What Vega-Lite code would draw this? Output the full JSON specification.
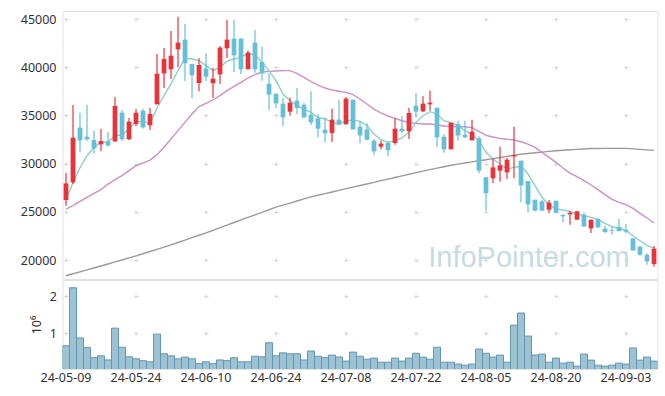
{
  "$schema": "https://vega.github.io/schema/vega-lite/v6.json",
  "padding": {"left": 16.5, "top": 10, "right": 5, "bottom": 5},
  "spacing": -3,
  "data": {"values": [
    {"d":"24-05-09","o":26220,"h":29020,"l":25640,"c":27950,"v":670000,"m5":26220,"m20":25290,"m120":18370},
    {"d":"24-05-10","o":28060,"h":36080,"l":27880,"c":32690,"v":2220000,"m5":28050,"m20":25640,"m120":18570},
    {"d":"24-05-13","o":33730,"h":35280,"l":31170,"c":32410,"v":880000,"m5":29600,"m20":26090,"m120":18770},
    {"d":"24-05-14","o":32790,"h":36080,"l":32380,"c":32520,"v":620000,"m5":30820,"m20":26500,"m120":18970},
    {"d":"24-05-16","o":32450,"h":33420,"l":31060,"c":31580,"v":350000,"m5":31690,"m20":26910,"m120":19175},
    {"d":"24-05-17","o":32000,"h":33590,"l":31270,"c":32340,"v":400000,"m5":32200,"m20":27300,"m120":19380},
    {"d":"24-05-20","o":32310,"h":33240,"l":31760,"c":31890,"v":290000,"m5":32270,"m20":27880,"m120":19590},
    {"d":"24-05-21","o":32310,"h":36910,"l":32240,"c":35980,"v":1140000,"m5":32900,"m20":28330,"m120":19800},
    {"d":"24-05-22","o":35280,"h":35560,"l":32380,"c":32520,"v":630000,"m5":32970,"m20":28750,"m120":20005},
    {"d":"24-05-23","o":32520,"h":34730,"l":32450,"c":34350,"v":375000,"m5":33590,"m20":29270,"m120":20215},
    {"d":"24-05-24","o":34110,"h":35660,"l":33870,"c":35280,"v":320000,"m5":34350,"m20":29780,"m120":20430},
    {"d":"24-05-27","o":35490,"h":35700,"l":33620,"c":33760,"v":270000,"m5":34380,"m20":30060,"m120":20650},
    {"d":"24-05-28","o":33970,"h":35770,"l":33490,"c":35150,"v":240000,"m5":34180,"m20":30370,"m120":20880},
    {"d":"24-05-29","o":36150,"h":41370,"l":36150,"c":39330,"v":980000,"m5":35770,"m20":30930,"m120":21110},
    {"d":"24-05-30","o":39360,"h":41990,"l":37840,"c":40850,"v":455000,"m5":37050,"m20":31690,"m120":21340},
    {"d":"24-05-31","o":39780,"h":43760,"l":38780,"c":41200,"v":400000,"m5":38260,"m20":32550,"m120":21570},
    {"d":"24-06-03","o":41850,"h":45240,"l":39990,"c":42550,"v":320000,"m5":39640,"m20":33420,"m120":21815},
    {"d":"24-06-04","o":42860,"h":44480,"l":38570,"c":40400,"v":366000,"m5":40920,"m20":34280,"m120":22065},
    {"d":"24-06-05","o":40330,"h":40330,"l":36810,"c":39160,"v":320000,"m5":40850,"m20":35140,"m120":22315},
    {"d":"24-06-07","o":38360,"h":40920,"l":37500,"c":40230,"v":190000,"m5":40680,"m20":35910,"m120":22565},
    {"d":"24-06-10","o":39850,"h":41440,"l":38530,"c":39020,"v":240000,"m5":40160,"m20":36250,"m120":22810},
    {"d":"24-06-11","o":38330,"h":39950,"l":36810,"c":38810,"v":190000,"m5":39640,"m20":36600,"m120":23080},
    {"d":"24-06-12","o":39260,"h":42200,"l":38260,"c":42030,"v":290000,"m5":39990,"m20":37050,"m120":23350},
    {"d":"24-06-13","o":41960,"h":44930,"l":40950,"c":42860,"v":270000,"m5":40620,"m20":37570,"m120":23620},
    {"d":"24-06-14","o":42960,"h":44930,"l":39500,"c":41230,"v":350000,"m5":40850,"m20":38020,"m120":23890},
    {"d":"24-06-17","o":42960,"h":43000,"l":39290,"c":39780,"v":240000,"m5":41020,"m20":38430,"m120":24160},
    {"d":"24-06-18","o":39810,"h":41720,"l":39710,"c":41510,"v":240000,"m5":41440,"m20":38880,"m120":24425},
    {"d":"24-06-19","o":42550,"h":43860,"l":39430,"c":39780,"v":390000,"m5":41270,"m20":39230,"m120":24690},
    {"d":"24-06-20","o":40540,"h":42130,"l":38600,"c":39360,"v":375000,"m5":40500,"m20":39500,"m120":24950},
    {"d":"24-06-21","o":38290,"h":39360,"l":35560,"c":37150,"v":750000,"m5":39640,"m20":39570,"m120":25215},
    {"d":"24-06-24","o":37250,"h":37250,"l":35770,"c":36250,"v":400000,"m5":38600,"m20":39610,"m120":25480},
    {"d":"24-06-25","o":36220,"h":36810,"l":33900,"c":34800,"v":480000,"m5":37220,"m20":39640,"m120":25690},
    {"d":"24-06-26","o":35390,"h":36870,"l":34970,"c":36320,"v":455000,"m5":36530,"m20":39640,"m120":25905},
    {"d":"24-06-27","o":36530,"h":37840,"l":35150,"c":35770,"v":455000,"m5":36010,"m20":39360,"m120":26120},
    {"d":"24-06-28","o":36110,"h":36320,"l":34730,"c":34800,"v":290000,"m5":35660,"m20":38950,"m120":26335},
    {"d":"24-07-01","o":35080,"h":37500,"l":34000,"c":34280,"v":530000,"m5":35320,"m20":38500,"m120":26550},
    {"d":"24-07-02","o":34700,"h":35110,"l":32720,"c":33620,"v":390000,"m5":34800,"m20":38150,"m120":26715},
    {"d":"24-07-03","o":33520,"h":34800,"l":32240,"c":33140,"v":350000,"m5":34630,"m20":37840,"m120":26885},
    {"d":"24-07-04","o":33170,"h":35700,"l":32240,"c":34560,"v":420000,"m5":34280,"m20":37630,"m120":27055},
    {"d":"24-07-05","o":34560,"h":36600,"l":33970,"c":34040,"v":370000,"m5":34110,"m20":37500,"m120":27225},
    {"d":"24-07-08","o":34070,"h":36910,"l":34070,"c":36740,"v":260000,"m5":34450,"m20":37390,"m120":27400},
    {"d":"24-07-09","o":36630,"h":36630,"l":33550,"c":33550,"v":500000,"m5":34520,"m20":37150,"m120":27560},
    {"d":"24-07-10","o":33830,"h":34450,"l":32100,"c":32930,"v":390000,"m5":34380,"m20":36700,"m120":27725},
    {"d":"24-07-11","o":33550,"h":34180,"l":32410,"c":32480,"v":310000,"m5":33930,"m20":36180,"m120":27890},
    {"d":"24-07-12","o":32380,"h":32550,"l":30860,"c":31270,"v":340000,"m5":33070,"m20":35660,"m120":28060},
    {"d":"24-07-15","o":31760,"h":32380,"l":31480,"c":32070,"v":230000,"m5":32480,"m20":35250,"m120":28230},
    {"d":"24-07-16","o":32140,"h":32310,"l":30750,"c":31380,"v":230000,"m5":32210,"m20":34940,"m120":28395},
    {"d":"24-07-17","o":32140,"h":34730,"l":31960,"c":33620,"v":340000,"m5":32380,"m20":34700,"m120":28560},
    {"d":"24-07-18","o":33620,"h":34900,"l":33210,"c":33350,"v":260000,"m5":32660,"m20":34450,"m120":28725},
    {"d":"24-07-19","o":33350,"h":35770,"l":32550,"c":35250,"v":340000,"m5":33240,"m20":34280,"m120":28890},
    {"d":"24-07-22","o":36010,"h":37290,"l":34800,"c":35390,"v":470000,"m5":34280,"m20":34180,"m120":29060},
    {"d":"24-07-23","o":35420,"h":36980,"l":35350,"c":36220,"v":366000,"m5":34970,"m20":34110,"m120":29215},
    {"d":"24-07-24","o":36150,"h":37570,"l":35490,"c":36320,"v":310000,"m5":35390,"m20":34110,"m120":29370},
    {"d":"24-07-25","o":35800,"h":35800,"l":31690,"c":32720,"v":630000,"m5":35140,"m20":34000,"m120":29525},
    {"d":"24-07-26","o":32790,"h":33070,"l":31130,"c":31480,"v":230000,"m5":34450,"m20":33900,"m120":29680},
    {"d":"24-07-29","o":31480,"h":34250,"l":31480,"c":34250,"v":230000,"m5":34220,"m20":33850,"m120":29835},
    {"d":"24-07-30","o":34110,"h":34450,"l":32380,"c":32930,"v":180000,"m5":33930,"m20":33830,"m120":29950},
    {"d":"24-07-31","o":33000,"h":34450,"l":32660,"c":32720,"v":150000,"m5":33420,"m20":33830,"m120":30065},
    {"d":"24-08-01","o":32410,"h":34560,"l":32410,"c":33310,"v":180000,"m5":33000,"m20":33730,"m120":30180},
    {"d":"24-08-02","o":32620,"h":32830,"l":28990,"c":29270,"v":580000,"m5":32380,"m20":33350,"m120":30290},
    {"d":"24-08-05","o":28580,"h":28580,"l":25120,"c":26920,"v":470000,"m5":31170,"m20":32930,"m120":30405},
    {"d":"24-08-06","o":28470,"h":30580,"l":27990,"c":29610,"v":366000,"m5":30480,"m20":32760,"m120":30520},
    {"d":"24-08-07","o":29270,"h":31760,"l":28130,"c":29820,"v":420000,"m5":29960,"m20":32620,"m120":30635},
    {"d":"24-08-08","o":29090,"h":30580,"l":28400,"c":30410,"v":230000,"m5":29440,"m20":32520,"m120":30750},
    {"d":"24-08-09","o":30750,"h":33830,"l":28470,"c":30890,"v":1220000,"m5":29610,"m20":32450,"m120":30860},
    {"d":"24-08-12","o":30300,"h":30300,"l":25980,"c":27740,"v":1545000,"m5":29720,"m20":32270,"m120":30975},
    {"d":"24-08-13","o":28190,"h":28190,"l":24940,"c":25770,"v":930000,"m5":28920,"m20":32030,"m120":31050},
    {"d":"24-08-14","o":26260,"h":26260,"l":25050,"c":25120,"v":420000,"m5":27710,"m20":31690,"m120":31120},
    {"d":"24-08-16","o":26090,"h":26260,"l":25050,"c":25120,"v":446000,"m5":26500,"m20":31170,"m120":31195},
    {"d":"24-08-19","o":25220,"h":26220,"l":24840,"c":25950,"v":230000,"m5":25740,"m20":30650,"m120":31265},
    {"d":"24-08-20","o":26150,"h":26150,"l":24910,"c":24910,"v":340000,"m5":25290,"m20":30130,"m120":31340},
    {"d":"24-08-21","o":24700,"h":24700,"l":23910,"c":24530,"v":205000,"m5":25190,"m20":29540,"m120":31385},
    {"d":"24-08-22","o":24740,"h":25120,"l":23660,"c":24910,"v":230000,"m5":25050,"m20":29020,"m120":31430},
    {"d":"24-08-23","o":24180,"h":25050,"l":24180,"c":25050,"v":125000,"m5":24770,"m20":28640,"m120":31475},
    {"d":"24-08-26","o":24700,"h":24940,"l":23420,"c":23490,"v":446000,"m5":24600,"m20":28230,"m120":31520},
    {"d":"24-08-27","o":23280,"h":24180,"l":22800,"c":24180,"v":286000,"m5":24430,"m20":27780,"m120":31565},
    {"d":"24-08-28","o":24250,"h":24320,"l":23320,"c":23390,"v":150000,"m5":24180,"m20":27300,"m120":31570},
    {"d":"24-08-29","o":23250,"h":23560,"l":22800,"c":22900,"v":125000,"m5":23800,"m20":26780,"m120":31575},
    {"d":"24-08-30","o":23110,"h":23530,"l":22630,"c":23040,"v":150000,"m5":23460,"m20":26290,"m120":31580},
    {"d":"24-09-02","o":23420,"h":24250,"l":22970,"c":23010,"v":205000,"m5":23320,"m20":25980,"m120":31580},
    {"d":"24-09-03","o":23110,"h":23730,"l":22800,"c":22940,"v":180000,"m5":23040,"m20":25740,"m120":31580},
    {"d":"24-09-04","o":22250,"h":22250,"l":20930,"c":21000,"v":610000,"m5":22520,"m20":25360,"m120":31530},
    {"d":"24-09-05","o":21380,"h":21490,"l":20450,"c":20550,"v":286000,"m5":22000,"m20":24840,"m120":31480},
    {"d":"24-09-06","o":20550,"h":20690,"l":19520,"c":19860,"v":366000,"m5":21490,"m20":24360,"m120":31425},
    {"d":"24-09-09","o":19590,"h":21450,"l":19310,"c":21170,"v":260000,"m5":21240,"m20":23840,"m120":31370}
  ]},
  "vconcat": [
    {
      "width": 595,
      "height": 268,
      "encoding": {
        "x": {
          "field": "d", "type": "ordinal",
          "scale": {"type": "band", "paddingInner": 0, "paddingOuter": 0},
          "axis": {
            "values": ["24-05-09","24-05-24","24-06-10","24-06-24","24-07-08","24-07-22","24-08-05","24-08-20","24-09-03"],
            "labels": false, "title": null, "grid": true, "bandPosition": 0.5,
            "minExtent": 0, "maxExtent": 0, "labelPadding": 0, "offset": 0,
            "gridDash": [4, 44.2], "gridDashOffset": 42.2
          }
        }
      },
      "layer": [
        {
          "data": {"values": [{"t": "InfoPointer.com"}]},
          "mark": {"type": "text", "font": "Liberation Sans", "fontSize": 29, "fill": "#c6dae6", "align": "center", "baseline": "alphabetic", "dx": -6},
          "encoding": {
            "x": {"datum": "24-08-14"},
            "y": {"datum": 19280, "type": "quantitative"},
            "text": {"field": "t"}
          }
        },
        {
          "mark": {"type": "line", "stroke": "#9a9a9a", "strokeWidth": 1.4},
          "encoding": {
            "y": {
              "field": "m120", "type": "quantitative",
              "scale": {"domain": [18030, 45830], "nice": false, "zero": false},
              "axis": {
                "values": [20000, 25000, 30000, 35000, 40000, 45000], "format": "d", "title": null,
                "grid": true, "gridDash": [4, 66], "gridDashOffset": 68.5,
                "labelPadding": 6.5, "minExtent": 45, "maxExtent": 45
              }
            }
          }
        },
        {
          "mark": {"type": "line", "stroke": "#cc8fc8", "strokeWidth": 1.4},
          "encoding": {"y": {"field": "m20", "type": "quantitative"}}
        },
        {
          "mark": {"type": "line", "stroke": "#8ccfc4", "strokeWidth": 1.4},
          "encoding": {"y": {"field": "m5", "type": "quantitative"}}
        },
        {
          "mark": {"type": "rule", "strokeWidth": 1.2},
          "encoding": {
            "y": {"field": "l", "type": "quantitative"},
            "y2": {"field": "h"},
            "color": {"condition": {"test": "datum.c >= datum.o", "value": "#e8333b"}, "value": "#66bfd8"}
          }
        },
        {
          "mark": {"type": "bar", "width": {"band": 0.68}},
          "encoding": {
            "y": {"field": "o", "type": "quantitative"},
            "y2": {"field": "c"},
            "color": {"condition": {"test": "datum.c >= datum.o", "value": "#e8333b"}, "value": "#66bfd8"}
          }
        }
      ]
    },
    {
      "width": 595,
      "height": 89,
      "mark": {"type": "bar", "fill": "#9cc2d4", "stroke": "#6297b0", "strokeWidth": 1, "clip": true},
      "encoding": {
        "x": {
          "field": "d", "type": "ordinal",
          "scale": {"type": "band", "paddingInner": 0, "paddingOuter": 0},
          "axis": {
            "values": ["24-05-09","24-05-24","24-06-10","24-06-24","24-07-08","24-07-22","24-08-05","24-08-20","24-09-03"],
            "title": null, "grid": true, "bandPosition": 0.5, "labelAngle": 0,
            "labelPadding": 2, "labelOverlap": false, "labelFlush": false,
            "gridDash": [4, 33.395], "gridDashOffset": 23.4
          }
        },
        "y": {
          "field": "v", "type": "quantitative",
          "scale": {"domain": [48000, 2428000], "nice": false, "zero": false},
          "axis": {
            "values": [1000000, 2000000], "labelExpr": "datum.value / 1000000",
            "title": "10⁶", "titlePadding": 5, "titleFontSize": 12.5, "titleFontWeight": "normal", "titleColor": "#333333",
            "grid": true, "gridDash": [4, 66], "gridDashOffset": 68.5,
            "labelPadding": 6, "minExtent": 14, "maxExtent": 14
          }
        }
      }
    }
  ],
  "config": {
    "view": {"stroke": "#e2e2e2"},
    "font": "Noto Sans",
    "axis": {
      "labelFont": "Noto Sans", "labelFontSize": 12.5, "labelColor": "#333333",
      "titleFont": "Noto Sans",
      "ticks": false, "tickSize": 0, "domain": false,
      "gridColor": "#d4d4d4", "gridWidth": 1
    }
  }
}
